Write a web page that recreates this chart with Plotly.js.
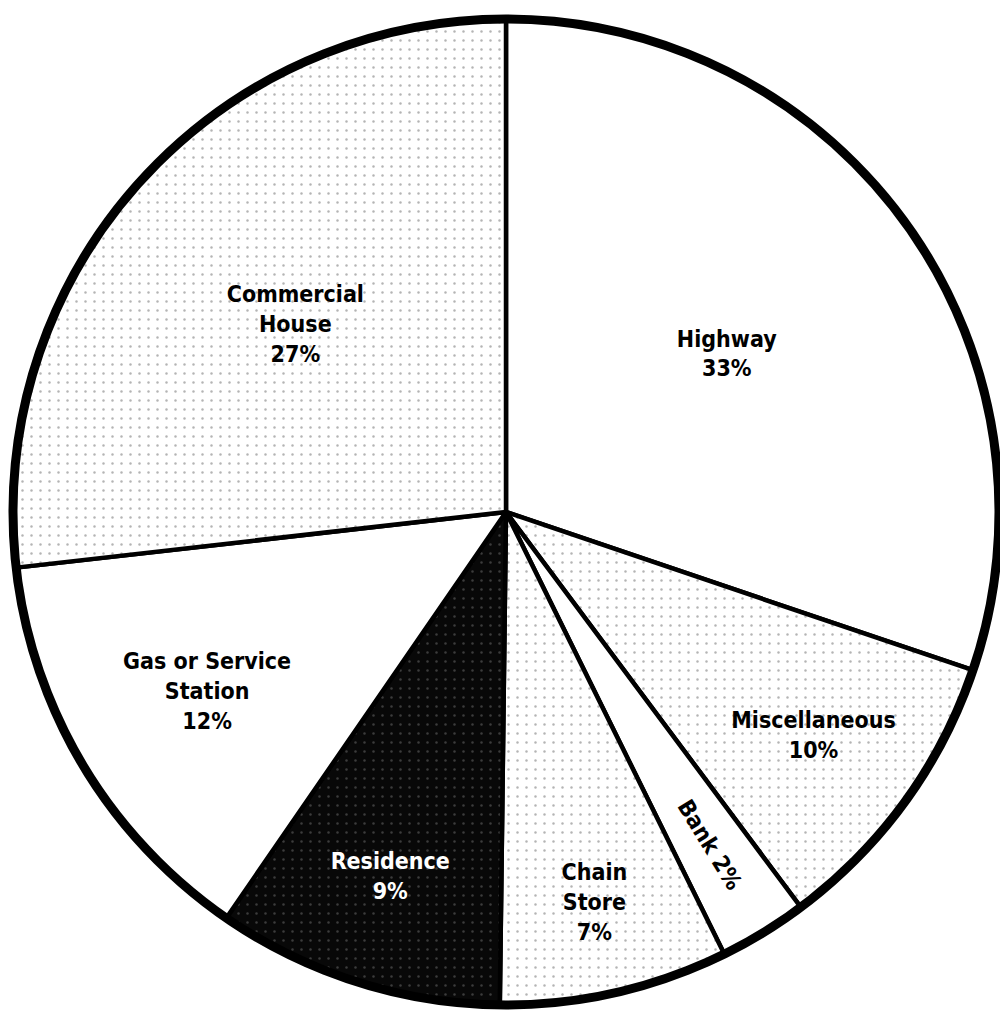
<!DOCTYPE html>
<html>
<head>
<meta charset="utf-8">
<script src="https://cdn.plot.ly/plotly-3.0.1.min.js"></script>
<style>html,body{margin:0;padding:0;background:#fff;}#chart{width:1000px;height:1014px;}</style>
</head>
<body>
<div id="chart"></div>
<script>
// Categories, clockwise from 12 o'clock
const categories = ["Highway", "Miscellaneous", "Bank", "Chain Store", "Residence", "Gas or Service Station", "Commercial House"];
// Percentages printed on the chart
const printedPct = [33, 10, 2, 7, 9, 12, 27];
// Share of the circle each slice actually occupies as drawn (%)
const sliceShare = [30.2, 9.6, 2.9, 7.5, 9.4, 13.6, 26.8];
// Label text lines as printed
const labelLines = [["Highway"], ["Miscellaneous"], ["Bank"], ["Chain", "Store"], ["Residence"], ["Gas or Service", "Station"], ["Commercial", "House"]];
const oneLine = [false, false, true, false, false, false, false];
// Fill style per slice
const fillKind = ["plain", "stipple", "plain", "stipple", "dark", "plain", "stipple"];

const texts = categories.map((c, i) => oneLine[i]
  ? labelLines[i].join(" ") + " " + printedPct[i] + "%"
  : labelLines[i].join("<br>") + "<br>" + printedPct[i] + "%");

const bg = fillKind.map(k => k === "dark" ? "#080808" : "#ffffff");
const fg = fillKind.map(k => k === "dark" ? "#3c3c3c" : "#b4b4b4");
const shape = fillKind.map(k => k === "plain" ? "" : ".");
const txtColor = fillKind.map(k => k === "dark" ? "#ffffff" : "#000000");

const cx = 506, cy = 512, r = 493, W = 1000, H = 1014;

const trace = {
  type: "pie",
  labels: categories,
  values: sliceShare,
  text: texts,
  textinfo: "text",
  textposition: "inside",
  insidetextorientation: "auto",
  sort: false,
  direction: "clockwise",
  rotation: 0,
  hoverinfo: "skip",
  insidetextfont: {family: "DejaVu Sans Condensed, Liberation Sans Narrow, Arial Narrow, sans-serif", size: 23, color: txtColor, weight: 700},
  marker: {
    colors: bg,
    line: {color: "#000000", width: 4.5},
    pattern: {shape: shape, bgcolor: bg, fgcolor: fg, size: 9, solidity: 0.06, fillmode: "replace"}
  },
  domain: {x: [(cx - r) / W, (cx + r) / W], y: [1 - (cy + r) / H, 1 - (cy - r) / H]}
};

const layout = {
  width: W, height: H,
  margin: {l: 0, r: 0, t: 0, b: 0},
  paper_bgcolor: "#ffffff",
  showlegend: false,
  shapes: [{
    type: "circle", xref: "paper", yref: "paper",
    x0: (cx - r) / W, x1: (cx + r) / W, y0: 1 - (cy + r) / H, y1: 1 - (cy - r) / H,
    line: {color: "#000000", width: 9}, fillcolor: "rgba(0,0,0,0)", layer: "above"
  }]
};

Plotly.newPlot("chart", [trace], layout, {staticPlot: true, displayModeBar: false});
</script>
</body>
</html>
